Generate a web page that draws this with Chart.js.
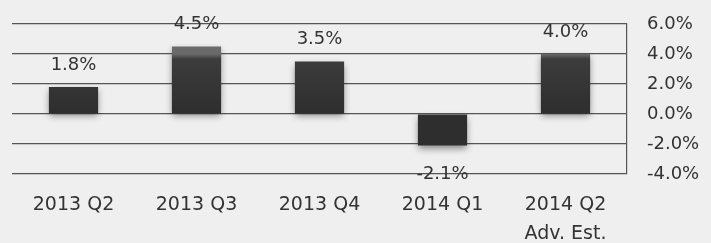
<!DOCTYPE html>
<html>
<head>
<meta charset="utf-8">
<script src="https://cdn.jsdelivr.net/npm/chart.js@4.4.1/dist/chart.umd.min.js"></script>
<style>
  html, body { margin: 0; padding: 0; background: #efefef; }
  #wrap { width: 711px; height: 243px; position: relative; }
</style>
</head>
<body>
<div id="wrap"><canvas id="gdp"></canvas></div>
<script>
// chart data
const quarters = [["2013 Q2"], ["2013 Q3"], ["2013 Q4"], ["2014 Q1"], ["2014 Q2", "Adv. Est."]];
const growth = [1.8, 4.5, 3.5, -2.1, 4.0];
const yTicks = [6, 4, 2, 0, -2, -4];

const FONT = "'DejaVu Sans', sans-serif";
const TEXT = "#333";

// bar shading: lighter top band, dark body, soft shadow
const barLook = {
  id: "barLook",
  beforeDatasetDraw(chart) {
    const ctx = chart.ctx;
    chart.getDatasetMeta(0).data.forEach(bar => {
      const top = Math.min(bar.y, bar.base), bot = Math.max(bar.y, bar.base);
      const g = ctx.createLinearGradient(0, top, 0, bot);
      g.addColorStop(0, "#6a6a6a");
      g.addColorStop(5 / (bot - top), "#3c3c3c");
      g.addColorStop(1, "#2e2e2e");
      bar.options.backgroundColor = g;
    });
    ctx.save();
    ctx.shadowColor = "rgba(0,0,0,0.45)";
    ctx.shadowBlur = 7;
    ctx.shadowOffsetY = 3;
  },
  afterDatasetDraw(chart) {
    chart.ctx.restore();
  }
};

// value labels above positive bars, below negative ones
const valueLabels = {
  id: "valueLabels",
  afterDatasetsDraw(chart) {
    const ctx = chart.ctx;
    ctx.save();
    ctx.font = "18px " + FONT;
    ctx.fillStyle = TEXT;
    ctx.textAlign = "center";
    ctx.textBaseline = "middle";
    chart.getDatasetMeta(0).data.forEach((bar, i) => {
      const v = growth[i];
      const y = v >= 0 ? bar.y - 22 : bar.y + 29;
      ctx.fillText(v.toFixed(1) + "%", bar.x, y);
    });
    ctx.restore();
  }
};

new Chart(document.getElementById("gdp"), {
  type: "bar",
  data: {
    labels: quarters,
    datasets: [{
      data: growth,
      backgroundColor: "#3a3a3a",
      borderWidth: 0,
      barPercentage: 0.4,
      categoryPercentage: 1
    }]
  },
  options: {
    responsive: true,
    maintainAspectRatio: false,
    animation: false,
    layout: { padding: { left: 12, top: 24, right: 0, bottom: 0 } },
    plugins: { legend: { display: false }, tooltip: { enabled: false } },
    scales: {
      x: {
        grid: { display: false },
        border: { display: false },
        ticks: {
          color: TEXT,
          font: { family: FONT, size: 19, lineHeight: 1.5 },
          padding: 9,
          maxRotation: 0
        },
        afterFit(s) { s.height = 69; s.paddingLeft = 0; s.paddingRight = 0; }
      },
      y: {
        position: "right",
        min: -4,
        max: 6,
        afterBuildTicks(s) { s.ticks = yTicks.map(v => ({ value: v })); },
        grid: { color: "#555", lineWidth: 1.2, drawTicks: false },
        border: { display: true, color: "#555", width: 1.2 },
        ticks: {
          color: TEXT,
          font: { family: FONT, size: 18 },
          padding: 20,
          callback: v => v.toFixed(1) + "%"
        },
        afterFit(s) { s.width = 84; s.paddingTop = 0; s.paddingBottom = 0; }
      }
    }
  },
  plugins: [barLook, valueLabels]
});
</script>
</body>
</html>
